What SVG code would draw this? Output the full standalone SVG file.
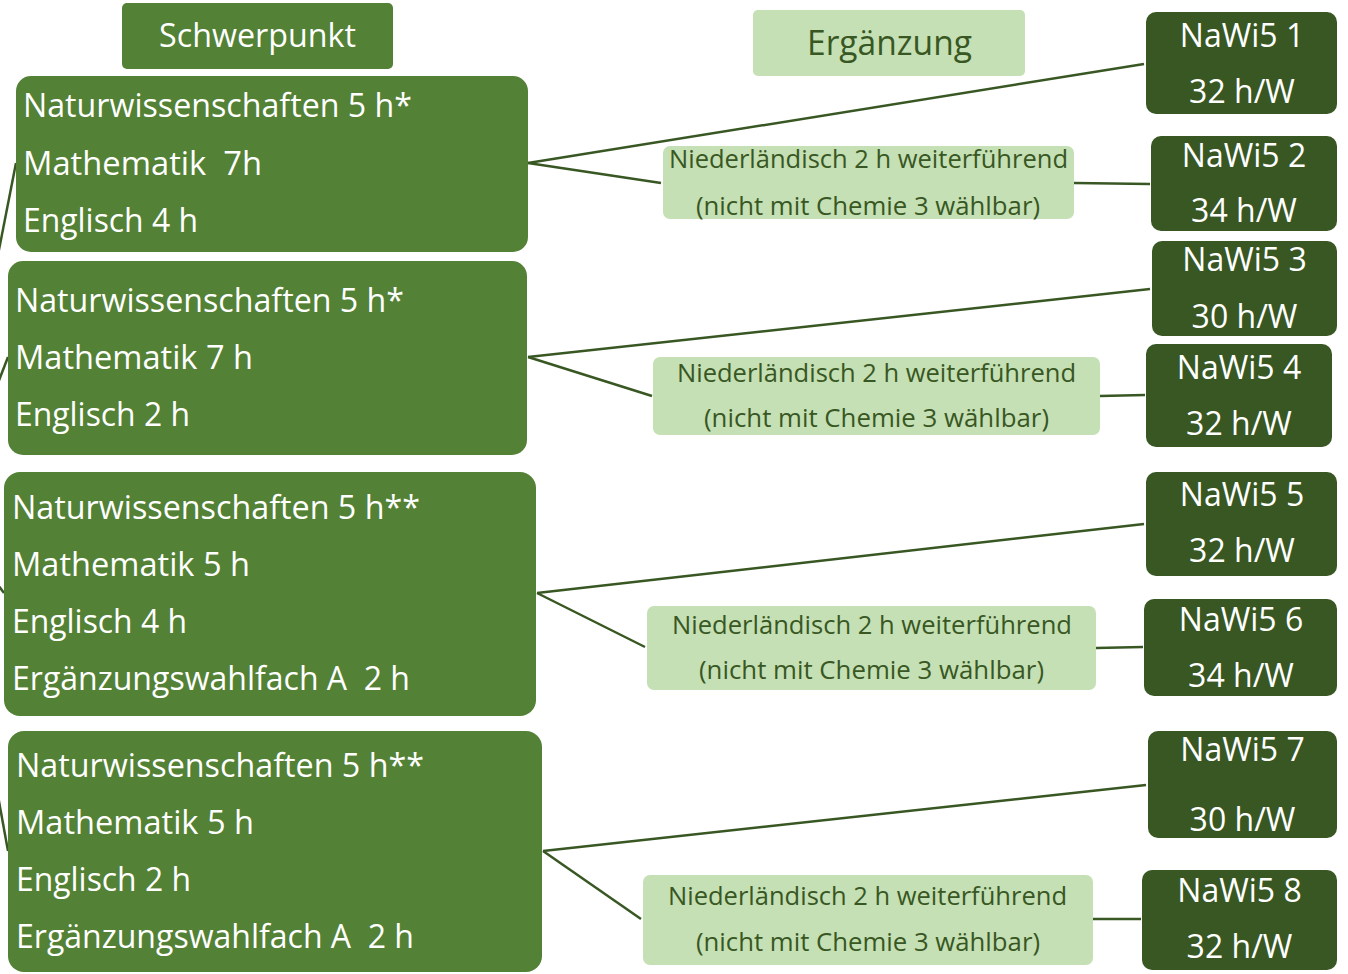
<svg xmlns="http://www.w3.org/2000/svg" width="1348" height="974" viewBox="0 0 1348 974">
<style>
.main{fill:#538135}
.dark{fill:#385723}
.light{fill:#C5E0B4}
.wt{fill:#ffffff;font-family:"Open Sans","Noto Sans","Liberation Sans",sans-serif;font-size:32px}
.dt{fill:#385723;font-family:"Open Sans","Noto Sans","Liberation Sans",sans-serif;font-size:25px;text-anchor:middle}
.nw{fill:#ffffff;font-family:"Open Sans","Noto Sans","Liberation Sans",sans-serif;font-size:32px;text-anchor:middle}
.con line{stroke:#385723;stroke-width:2.5;fill:none}
</style>
<rect width="1348" height="974" fill="#ffffff"/>
<g id="connectors" class="con">
<line x1="-53" y1="515" x2="16" y2="163"/>
<line x1="-53" y1="515" x2="8" y2="357"/>
<line x1="-53" y1="515" x2="4" y2="593"/>
<line x1="-53" y1="515" x2="8" y2="851"/>
<line x1="528" y1="163" x2="1144" y2="64"/>
<line x1="528" y1="163" x2="661" y2="183"/>
<line x1="1074" y1="183" x2="1150" y2="184"/>
<line x1="528" y1="357" x2="1150" y2="289"/>
<line x1="528" y1="357" x2="652" y2="396"/>
<line x1="1100" y1="396" x2="1145" y2="395"/>
<line x1="537" y1="593" x2="1144" y2="524"/>
<line x1="537" y1="593" x2="645" y2="647"/>
<line x1="1096" y1="648" x2="1143" y2="647"/>
<line x1="543" y1="851" x2="1146" y2="785"/>
<line x1="543" y1="851" x2="641" y2="919"/>
<line x1="1093" y1="919" x2="1141" y2="919"/>
</g>
<g id="schwerpunkt">
<rect class="main" x="122" y="3" width="271" height="66" rx="5"/>
<text class="wt" x="257.5" y="47" text-anchor="middle" textLength="197" lengthAdjust="spacingAndGlyphs">Schwerpunkt</text>
</g>
<g id="ergaenzung">
<rect class="light" x="753" y="10" width="272" height="66" rx="5"/>
<text x="889.5" y="55" text-anchor="middle" style="fill:#385723;font-family:'Open Sans','Noto Sans',sans-serif;font-size:34px" textLength="165" lengthAdjust="spacingAndGlyphs">Ergänzung</text>
</g>
<g id="sp1">
<rect class="main" x="16" y="76" width="512" height="176" rx="15"/>
<text class="wt" x="23" y="117" textLength="389" lengthAdjust="spacingAndGlyphs">Naturwissenschaften 5 h*</text>
<text class="wt" x="23" y="175" xml:space="preserve" textLength="239" lengthAdjust="spacingAndGlyphs">Mathematik  7h</text>
<text class="wt" x="23" y="232" textLength="175" lengthAdjust="spacingAndGlyphs">Englisch 4 h</text>
</g>
<g id="sp2">
<rect class="main" x="8" y="261" width="519" height="194" rx="15"/>
<text class="wt" x="15" y="312" textLength="389" lengthAdjust="spacingAndGlyphs">Naturwissenschaften 5 h*</text>
<text class="wt" x="15" y="369" textLength="238" lengthAdjust="spacingAndGlyphs">Mathematik 7 h</text>
<text class="wt" x="15" y="426" textLength="175" lengthAdjust="spacingAndGlyphs">Englisch 2 h</text>
</g>
<g id="sp3">
<rect class="main" x="4" y="472" width="532" height="244" rx="16"/>
<text class="wt" x="12" y="519" textLength="408" lengthAdjust="spacingAndGlyphs">Naturwissenschaften 5 h**</text>
<text class="wt" x="12" y="576" textLength="238" lengthAdjust="spacingAndGlyphs">Mathematik 5 h</text>
<text class="wt" x="12" y="633" textLength="175" lengthAdjust="spacingAndGlyphs">Englisch 4 h</text>
<text class="wt" x="12" y="690" xml:space="preserve" textLength="398" lengthAdjust="spacingAndGlyphs">Ergänzungswahlfach A  2 h</text>
</g>
<g id="sp4">
<rect class="main" x="8" y="731" width="534" height="241" rx="16"/>
<text class="wt" x="16" y="777" textLength="408" lengthAdjust="spacingAndGlyphs">Naturwissenschaften 5 h**</text>
<text class="wt" x="16" y="834" textLength="238" lengthAdjust="spacingAndGlyphs">Mathematik 5 h</text>
<text class="wt" x="16" y="891" textLength="175" lengthAdjust="spacingAndGlyphs">Englisch 2 h</text>
<text class="wt" x="16" y="948" xml:space="preserve" textLength="398" lengthAdjust="spacingAndGlyphs">Ergänzungswahlfach A  2 h</text>
</g>
<g id="nl1">
<rect class="light" x="663" y="146" width="411" height="73" rx="7"/>
<text class="dt" x="868.5" y="168" textLength="399" lengthAdjust="spacingAndGlyphs">Niederländisch 2 h weiterführend</text>
<text class="dt" x="868" y="215" textLength="344" lengthAdjust="spacingAndGlyphs">(nicht mit Chemie 3 wählbar)</text>
</g>
<g id="nl2">
<rect class="light" x="653" y="357" width="447" height="78" rx="7"/>
<text class="dt" x="876.5" y="382" textLength="399" lengthAdjust="spacingAndGlyphs">Niederländisch 2 h weiterführend</text>
<text class="dt" x="876.5" y="427" textLength="345" lengthAdjust="spacingAndGlyphs">(nicht mit Chemie 3 wählbar)</text>
</g>
<g id="nl3">
<rect class="light" x="647" y="606" width="449" height="84" rx="7"/>
<text class="dt" x="872" y="634" textLength="400" lengthAdjust="spacingAndGlyphs">Niederländisch 2 h weiterführend</text>
<text class="dt" x="871.5" y="679" textLength="345" lengthAdjust="spacingAndGlyphs">(nicht mit Chemie 3 wählbar)</text>
</g>
<g id="nl4">
<rect class="light" x="643" y="875" width="450" height="90" rx="7"/>
<text class="dt" x="867.5" y="905" textLength="399" lengthAdjust="spacingAndGlyphs">Niederländisch 2 h weiterführend</text>
<text class="dt" x="868" y="951" textLength="344" lengthAdjust="spacingAndGlyphs">(nicht mit Chemie 3 wählbar)</text>
</g>
<g id="nawi1">
<rect class="dark" x="1146" y="12" width="191" height="102" rx="10"/>
<text class="nw" x="1242" y="47">NaWi5 1</text>
<text class="nw" x="1242" y="103">32 h/W</text>
</g>
<g id="nawi2">
<rect class="dark" x="1151" y="136" width="186" height="95" rx="10"/>
<text class="nw" x="1244" y="167">NaWi5 2</text>
<text class="nw" x="1244" y="222">34 h/W</text>
</g>
<g id="nawi3">
<rect class="dark" x="1152" y="241" width="185" height="95" rx="10"/>
<text class="nw" x="1244.5" y="271">NaWi5 3</text>
<text class="nw" x="1244.5" y="328">30 h/W</text>
</g>
<g id="nawi4">
<rect class="dark" x="1146" y="344" width="186" height="103" rx="10"/>
<text class="nw" x="1239" y="379">NaWi5 4</text>
<text class="nw" x="1239" y="435">32 h/W</text>
</g>
<g id="nawi5">
<rect class="dark" x="1146" y="472" width="191" height="104" rx="10"/>
<text class="nw" x="1242" y="506">NaWi5 5</text>
<text class="nw" x="1242" y="562">32 h/W</text>
</g>
<g id="nawi6">
<rect class="dark" x="1144" y="599" width="193" height="97" rx="10"/>
<text class="nw" x="1241" y="631">NaWi5 6</text>
<text class="nw" x="1241" y="687">34 h/W</text>
</g>
<g id="nawi7">
<rect class="dark" x="1148" y="731" width="189" height="107" rx="10"/>
<text class="nw" x="1242.5" y="761">NaWi5 7</text>
<text class="nw" x="1242.5" y="831">30 h/W</text>
</g>
<g id="nawi8">
<rect class="dark" x="1142" y="870" width="195" height="100" rx="10"/>
<text class="nw" x="1239.5" y="902">NaWi5 8</text>
<text class="nw" x="1239.5" y="958">32 h/W</text>
</g>
</svg>
